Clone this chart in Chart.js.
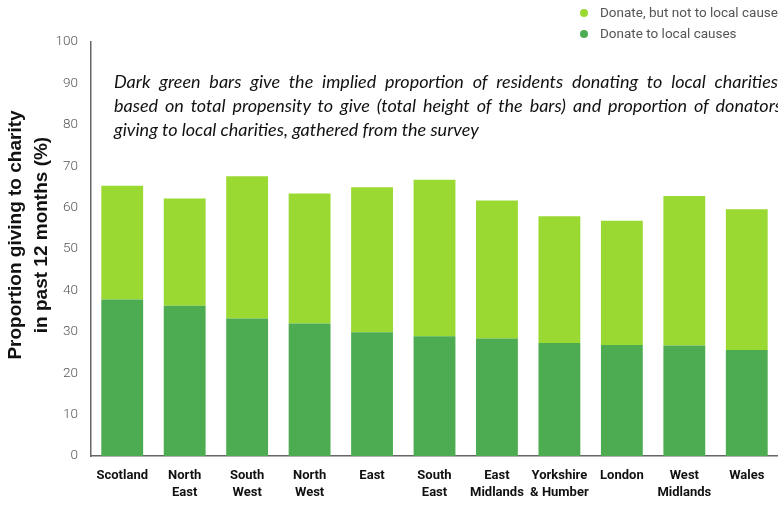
<!DOCTYPE html>
<html>
<head>
<meta charset="utf-8">
<script src="https://cdn.jsdelivr.net/npm/chart.js@4"></script>
<style>
    html, body { margin: 0; padding: 0; background: #fff; overflow: hidden; }
    #wrap { position: relative; width: 778px; height: 505px; overflow: hidden; }
    #legend { position: absolute; left: 580px; top: 2px; font-family: Roboto, sans-serif; font-size: 13.5px; color: #555; }
    #legend div { height: 21px; line-height: 21px; white-space: nowrap; }
    #legend span.dot { display: inline-block; width: 8px; height: 8px; border-radius: 50%; margin: 0 12px 0 0; vertical-align: 0px; }
    #note { position: absolute; left: 114px; top: 69px; width: 668px; font-family: Lato, sans-serif; font-style: italic; font-size: 18px; line-height: 24px; color: #111; }
    #note div { white-space: nowrap; }
    #note div.j { text-align: justify; text-align-last: justify; }
</style>
</head>
<body>
<div id="wrap">
    <canvas id="bar-chart" width="778" height="505"></canvas>
    <div id="legend"></div>
    <div id="note">
        <div class="j">Dark green bars give the implied proportion of residents donating to local charities,</div>
        <div class="j">based on total propensity to give (total height of the bars) and proportion of donators</div>
        <div>giving to local charities, gathered from the survey</div>
    </div>
</div>
<script>
    // Data
    var regions = [
        ["Scotland"], ["North", "East"], ["South", "West"], ["North", "West"], ["East"],
        ["South", "East"], ["East", "Midlands"], ["Yorkshire", "& Humber"], ["London"],
        ["West", "Midlands"], ["Wales"]
    ];
    var totalGiving = [65.3, 62.2, 67.6, 63.4, 64.9, 66.7, 61.7, 57.9, 56.8, 62.8, 59.6];
    var localGiving = [37.8, 36.3, 33.2, 32.0, 29.9, 28.9, 28.4, 27.3, 26.8, 26.7, 25.6];
    var yTicks = [0, 10, 20, 30, 40, 50, 60, 70, 80, 90, 100];
    var yTitle = ["Proportion giving to charity", "in past 12 months (%)"];

    var notLocal = totalGiving.map(function (t, i) { return +(t - localGiving[i]).toFixed(1); });

    var lightGreen = "#9ad932";
    var darkGreen = "#4dac51";

    // Y axis title drawn a bit above the axis centre, like the original
    var yTitlePlugin = {
        id: "yTitle",
        afterDraw: function (chart) {
            var c = chart.ctx;
            c.save();
            c.translate(0, 235);
            c.rotate(-Math.PI / 2);
            c.fillStyle = "#111";
            c.font = "bold 19px 'Liberation Sans', Arial, sans-serif";
            c.textAlign = "center";
            c.textBaseline = "middle";
            c.fillText(yTitle[0], 0, 16);
            c.fillText(yTitle[1], 0, 42);
            c.restore();
        }
    };

    var ctx = document.getElementById("bar-chart").getContext("2d");
    var myChart = new Chart(ctx, {
        type: "bar",
        data: {
            labels: regions,
            datasets: [
                {
                    label: "Donate to local causes",
                    data: localGiving,
                    backgroundColor: darkGreen,
                    borderWidth: 0
                },
                {
                    label: "Donate, but not to local causes",
                    data: notLocal,
                    backgroundColor: lightGreen,
                    borderWidth: 0
                }
            ]
        },
        options: {
            responsive: false,
            animation: false,
            layout: { padding: { top: 42, right: 0, left: 0, bottom: 0 } },
            datasets: { bar: { categoryPercentage: 1, barPercentage: 0.67 } },
            plugins: {
                legend: { display: false },
                tooltip: { enabled: false }
            },
            scales: {
                x: {
                    stacked: true,
                    afterFit: function (axis) { axis.height = 49; },
                    grid: { display: false, drawTicks: false },
                    border: { color: "#666", width: 1.5 },
                    ticks: {
                        color: "#111",
                        padding: 11,
                        maxRotation: 0,
                        autoSkip: false,
                        font: { family: "Roboto, sans-serif", size: 13, weight: "bold", lineHeight: 1.3 }
                    }
                },
                y: {
                    stacked: true,
                    min: 0,
                    max: 100,
                    afterBuildTicks: function (axis) {
                        axis.ticks = yTicks.map(function (v) { return { value: v }; });
                    },
                    afterFit: function (axis) { axis.width = 91; },
                    grid: { display: false, drawTicks: false },
                    border: { color: "#666", width: 1.5 },
                    ticks: {
                        color: "#555",
                        padding: 13,
                        font: { family: "Roboto, sans-serif", size: 13.5, weight: "300" }
                    }
                }
            }
        },
        plugins: [yTitlePlugin]
    });

    // HTML legend, light series listed first like the original
    var legendEl = document.getElementById("legend");
    myChart.data.datasets.slice().reverse().forEach(function (ds) {
        var row = document.createElement("div");
        var dot = document.createElement("span");
        dot.className = "dot";
        dot.style.background = ds.backgroundColor;
        row.appendChild(dot);
        row.appendChild(document.createTextNode(ds.label));
        legendEl.appendChild(row);
    });
</script>
</body>
</html>
